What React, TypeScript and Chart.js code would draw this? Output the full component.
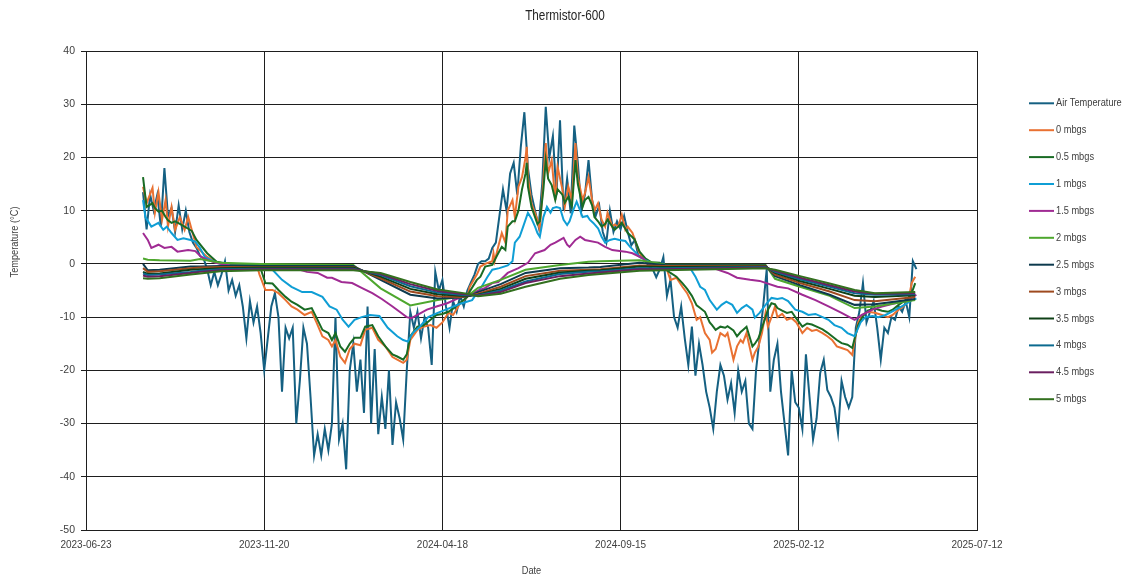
import React, { useEffect, useRef } from "react";
import { Chart, registerables } from "chart.js";

Chart.register(...registerables);

const FONT = "'Liberation Sans', Arial, sans-serif";
const CHART_TITLE = "Thermistor-600";
const X_TITLE = "Date";
const Y_TITLE = "Temperature (°C)";

// Excel serial day numbers for x tick positions (2023-06-23 ... 2025-07-12)
const X_TICKS = [45100, 45250, 45400, 45550, 45700, 45850];
const Y_MIN = -50;
const Y_MAX = 40;
const Y_STEP = 10;

const SERIES_LABELS = [
  "Air Temperature",
  "0 mbgs",
  "0.5 mbgs",
  "1 mbgs",
  "1.5 mbgs",
  "2 mbgs",
  "2.5 mbgs",
  "3 mbgs",
  "3.5 mbgs",
  "4 mbgs",
  "4.5 mbgs",
  "5 mbgs",
];

const SERIES_COLORS = [
  "#156082",
  "#E97132",
  "#196B24",
  "#0F9ED5",
  "#A02B93",
  "#4EA72E",
  "#0D3A4E",
  "#9E4A1F",
  "#0F4016",
  "#0B6A8F",
  "#6A1F60",
  "#33701F",
];

// Air temperature: readings every 3 days from 2023-08-10 (serial 45148)
const AIR_FIRST_DAY = 45148;
const AIR_INTERVAL_DAYS = 3;
const airTemp = [
  13.5, 6.5, 13, 10, 13, 7, 18, 9, 10.5, 6,
  11, 6.5, 10, 6, 4, 3, 1.5, 1, -1, -4,
  -1.5, -4, -2, 0.5, -5, -3, -6, -4, -8, -14,
  -7, -11, -8, -13, -20, -14, -8, -5.5, -10, -24,
  -12, -14, -12, -30, -22, -12, -15, -25, -36, -32,
  -36, -31, -35, -30, -10, -33, -30, -38.6, -20, -15,
  -24, -18, -28, -8, -30, -16, -32, -25, -31, -20,
  -34, -26, -29, -33, -20, -9, -12, -9, -14, -10,
  -12, -19, -1.5, -5, -3, -8, -12, -7, -9, -6,
  -8, -5, -3.5, -2, 0, 0.5, 0.5, 1, 3, 4,
  9, 14, 10, 17, 19, 13, 22, 28.5, 18, 13,
  10, 7, 15, 29.5, 20, 24, 13, 27, 10, 16,
  9.5, 26, 19, 10, 13, 19.5, 12, 9, 11, 6,
  4, 10, 6, 8, 6.5, 9, 6, 3.5, 4.5, 1.5,
  1.5, 0.5, -0.5, -1, -2.5, -1, 1.3, -6, -3, -10,
  -12, -8, -14, -19, -11.8, -21, -15, -19, -24, -27,
  -31, -24, -19, -21, -25.5, -22.4, -28, -20, -24, -22,
  -30, -31, -20, -14, -8, -1, -24, -18, -15, -24,
  -30, -36, -20, -26, -27, -31, -17, -25, -33, -29,
  -20.5, -18, -23.7, -25, -27, -31.8, -22, -25, -27, -25,
  -12, -9, -3.6, -11, -9, -7, -12, -18, -12, -13,
  -10, -10.5, -8, -9, -7, -10, 0.5, -1,
];

// Shallow sensors (0 and 0.5 mbgs) share these reading dates (Excel serials)
const shallowDates = [
  45148, 45151, 45156, 45158, 45161, 45164, 45167, 45169, 45172, 45175,
  45179, 45183, 45186, 45189, 45193, 45202, 45210, 45221, 45244, 45246,
  45251, 45257, 45262, 45268, 45273, 45278, 45284, 45290, 45294, 45299,
  45304, 45307, 45310, 45314, 45318, 45322, 45326, 45331, 45335, 45341,
  45346, 45352, 45358, 45362, 45367, 45370, 45373, 45379, 45384, 45390,
  45395, 45400, 45405, 45409, 45415, 45421, 45423, 45429, 45432, 45436,
  45442, 45443, 45444, 45447, 45450, 45453, 45455, 45459, 45461, 45464,
  45467, 45470, 45471, 45472, 45475, 45480, 45482, 45485, 45487, 45489,
  45492, 45495, 45497, 45501, 45503, 45506, 45509, 45512, 45514, 45518,
  45520, 45523, 45526, 45528, 45531, 45534, 45537, 45539, 45543, 45545,
  45548, 45551, 45554, 45556, 45560, 45562, 45566, 45571, 45576, 45583,
  45589, 45592, 45597, 45602, 45606, 45610, 45614, 45617, 45621, 45625,
  45627, 45630, 45634, 45638, 45640, 45645, 45648, 45651, 45653, 45656,
  45661, 45663, 45666, 45669, 45672, 45674, 45677, 45680, 45682, 45686,
  45690, 45694, 45698, 45703, 45707, 45711, 45715, 45720, 45724, 45728,
  45732, 45736, 45741, 45745, 45747, 45750, 45754, 45758, 45764, 45770,
  45775, 45779, 45784, 45788, 45792, 45795, 45798,
];

const soil0 = [
  14.5, 11.4, 14.3, 9.6, 13.5, 8.3, 12, 7, 10.7, 6.4,
  8.8, 6.4, 8.8, 6.4, 3.2, 1.3, 0.2, -0.2, -0.4, -2,
  -4.9, -4.9, -5.5, -6.8, -8, -8.6, -9.6, -9, -11, -13.6,
  -14.3, -15.5, -14.3, -17.4, -18.6, -16, -15, -15.3, -12.4, -12,
  -14.3, -15.5, -17.5, -18, -18.6, -18, -14.3, -12.4, -11.8, -11.5,
  -12, -11, -9.2, -9.6, -7.4, -6.2, -4.3, -2, -0.5, 0,
  0.5, 2, 0.5, 3.2, 5.8, 4, 10, 12, 8.8, 14.5,
  16.3, 20, 22, 16.3, 11.4, 8.3, 6.4, 15.8, 22.7, 17,
  19.5, 12, 18.2, 14, 10.7, 14.5, 12, 22.7, 16.3, 12,
  13.3, 16.3, 12, 10, 11.4, 8.3, 7, 9.6, 7, 7.4,
  7, 9.2, 6.4, 7, 5.8, 4.5, 2, 0.7, 0.2, 0,
  -1.1, -3, -2.6, -4.3, -5.5, -7.4, -10.5, -10, -13, -14.3,
  -16.7, -16, -13, -13.6, -13, -18, -15.5, -14.3, -14.8, -13,
  -18, -16.7, -15.5, -13, -9.2, -11.8, -10, -8, -10, -9.4,
  -10.5, -10.2, -11, -13, -12, -12.6, -12.4, -13, -13.6, -14.3,
  -15.5, -15.8, -16.2, -17.1, -14.5, -11, -9.6, -9, -9.2, -9.6,
  -10, -9.6, -8.6, -8, -7.1, -3.6, -2.4,
];

const soil05 = [
  16.3, 10.7, 11.4, 10.5, 9.8, 10, 8.8, 8.2, 7.7, 8,
  7.5, 7, 6.6, 6.2, 4.5, 2, 0.4, 0, -0.2, -0.2,
  -3.6, -3.7, -4.9, -6.2, -7.1, -7.7, -8.6, -8.3, -10.1, -12.4,
  -13, -14.3, -13, -15.5, -16.5, -15, -13.9, -13.9, -11.8, -11.5,
  -13.6, -15.5, -17, -17.4, -18, -17, -13.6, -11.8, -11.6, -10.5,
  -9.6, -9.4, -9, -8.4, -7.3, -6.2, -5.2, -3, -2.4, -0.5,
  -0.2, 0.2, 0.7, 2, 3.2, 2.6, 7, 8, 8, 10,
  14, 17, 19, 14.5, 10.7, 7.5, 8, 14, 19.5, 16,
  14.8, 12, 14, 13, 11.5, 12.6, 10.7, 19.5, 15, 10.7,
  12, 12.6, 11, 8.8, 8, 7, 7.5, 8.3, 7, 6.4,
  7, 7.7, 6.6, 5.8, 5, 4.5, 2.3, 1, 0.3, 0.2,
  -1.2, -1.7, -2.4, -3.6, -4.7, -6, -7.8, -8.3, -9, -11,
  -11.5, -12.4, -11.8, -12, -11.7, -12.5, -13.6, -12.8, -12.4, -11.8,
  -15.5, -15, -14, -12, -10, -8.6, -7.4, -7.6, -8.3, -8.8,
  -9.2, -9, -10.3, -11.8, -11.2, -11.4, -11.8, -12.3, -12.9, -13.6,
  -14.3, -14.9, -15.2, -15.8, -14, -11.5, -9.8, -8.8, -8.4, -8.8,
  -9, -8.6, -7.7, -7.1, -6.5, -5.5, -3.6,
];

// 1 mbgs readings: [Excel serial date, temperature]
const soil1: [number, number][] = [
  [45148, 12], [45150, 8.8], [45155, 7], [45161, 7.7], [45165, 6.4], [45168, 7], [45172, 5.8], [45177, 4.5], [45182, 4.8], [45188, 4.5],
  [45192, 4.2], [45196, 3], [45200, 1.3], [45206, 0.6], [45213, 0], [45221, -0.3], [45253, -0.4], [45257, -1.1], [45265, -3], [45273, -4.3],
  [45282, -5.3], [45290, -5.3], [45299, -6.2], [45305, -8], [45311, -8.6], [45316, -10.5], [45321, -11.8], [45326, -10.5], [45332, -10], [45339, -9.6],
  [45347, -9.8], [45354, -12], [45362, -13.6], [45367, -14.3], [45371, -14.6], [45375, -13], [45381, -11.8], [45388, -10], [45396, -9.2], [45405, -8.4],
  [45415, -7.5], [45425, -6.8], [45429, -5.5], [45433, -4.3], [45438, -2.4], [45442, -1.1], [45448, -0.8], [45455, -0.3], [45459, 0.5], [45461, 4],
  [45465, 5.1], [45468, 7], [45472, 9.6], [45475, 8.5], [45478, 7], [45480, 5.8], [45482, 5.1], [45485, 8.8], [45488, 10.7], [45491, 9.6],
  [45493, 10.5], [45496, 10.7], [45499, 10.5], [45502, 8.3], [45505, 7.3], [45507, 8], [45510, 10], [45513, 11.7], [45516, 10], [45518, 8.8],
  [45522, 9], [45524, 8.3], [45527, 7.7], [45531, 6.7], [45534, 5.1], [45537, 4], [45541, 4.5], [45545, 4.7], [45549, 4.5], [45554, 4.3],
  [45558, 3.2], [45562, 2.3], [45566, 1.3], [45571, 0.7], [45576, 0.2], [45587, -0.2], [45604, -0.4], [45608, -0.6], [45613, -2.4], [45617, -4.3],
  [45621, -4.9], [45625, -6.8], [45631, -8.6], [45635, -7.7], [45639, -7.1], [45644, -7.7], [45648, -9.2], [45652, -8.3], [45656, -7.7], [45661, -8.6],
  [45663, -10.1], [45667, -9.2], [45673, -7.4], [45677, -6.4], [45682, -6.6], [45686, -6.4], [45691, -7], [45697, -8.6], [45703, -9], [45708, -9.6],
  [45714, -9.4], [45720, -10], [45725, -10.5], [45730, -11.5], [45736, -12], [45741, -13], [45747, -13.6], [45752, -11], [45756, -10], [45762, -9.8],
  [45767, -10], [45773, -9.6], [45778, -9], [45784, -8.3], [45789, -7.7], [45795, -6.8], [45799, -6.5],
];

// 1.5 mbgs readings: [Excel serial date, temperature]
const soil15: [number, number][] = [
  [45148, 5.8], [45152, 4.5], [45155, 3.0], [45161, 3.6], [45166, 3.0], [45172, 3.2], [45177, 2.3], [45186, 2.6], [45192, 2.4], [45197, 1.3],
  [45203, 0.7], [45209, 0.2], [45221, -0.3], [45272, -0.6], [45286, -1.5], [45295, -1.7], [45303, -2.6], [45307, -2.6], [45315, -3.4], [45324, -3.6],
  [45332, -4.5], [45341, -5.5], [45349, -6.6], [45358, -8], [45364, -9], [45370, -10], [45374, -10.2], [45379, -9.6], [45387, -8.6], [45395, -8],
  [45404, -7.4], [45416, -6.2], [45427, -5.3], [45436, -4.5], [45442, -3.6], [45447, -3.4], [45455, -1.7], [45464, -0.8], [45472, 0.2], [45478, 2.0],
  [45486, 2.6], [45491, 3.6], [45495, 4.0], [45502, 4.9], [45505, 3.6], [45507, 3.2], [45512, 4.5], [45516, 5.1], [45520, 4.5], [45531, 4.0],
  [45537, 3.2], [45543, 2.6], [45554, 2.3], [45560, 2.0], [45569, 1.0], [45575, -0.2], [45583, -0.5], [45617, -0.6], [45628, -0.8], [45640, -1.7],
  [45648, -2.6], [45659, -3.0], [45667, -3.2], [45682, -4.3], [45691, -4.6], [45703, -5.8], [45714, -6.8], [45725, -8.0], [45736, -9.2], [45747, -10.5],
  [45753, -9.6], [45762, -8.6], [45770, -8.0], [45781, -7.4], [45792, -6.8], [45799, -5.8],
];

// Deep sensors (2 to 5 mbgs) share these reading dates (Excel serials)
const deepDates = [
  45148, 45152, 45162, 45188, 45196, 45213, 45247, 45325, 45348, 45373,
  45396, 45415, 45423, 45430, 45449, 45470, 45499, 45523, 45533, 45566,
  45587, 45672, 45680, 45701, 45726, 45747, 45764, 45798,
];
const soil2 = [1.0, 0.8, 0.7, 0.6, 0.9, 0.2, 0.0, -0.2, -4.6, -7.8, -6.8, -6.2, -5.7, -4.5, -3.0, -1.1, -0.2, 0.4, 0.5, 0.7, -0.1, -0.2, -2.8, -4.3, -6.0, -8.3, -8.0, -6.8];
const soil25 = [0.0, -1.2, -1.1, -0.5, -0.5, -0.4, -0.4, -0.4, -3.0, -5.8, -6.5, -6.3, -6.0, -5.3, -3.8, -1.7, -0.8, -0.7, -0.6, 0.2, -0.2, -0.3, -2.3, -4.0, -5.8, -7.7, -7.6, -6.6];
const soil3 = [-0.8, -1.5, -1.4, -0.8, -0.7, -0.6, -0.6, -0.6, -2.7, -5.2, -6.1, -6.2, -6.0, -5.6, -4.3, -2.3, -1.3, -1.1, -1.0, -0.3, -0.4, -0.4, -2.0, -3.6, -5.2, -6.8, -7.0, -6.2];
const soil35 = [-1.5, -1.9, -1.8, -1.1, -1.0, -0.8, -0.7, -0.7, -2.4, -4.7, -5.7, -6.0, -6.0, -5.8, -4.7, -2.8, -1.6, -1.3, -1.2, -0.5, -0.6, -0.5, -1.7, -3.2, -4.7, -6.0, -6.2, -5.9];
const soil4 = [-1.8, -2.1, -2.0, -1.5, -1.3, -1.0, -0.9, -0.9, -2.1, -4.2, -5.4, -5.8, -5.9, -5.9, -5.0, -3.3, -1.9, -1.5, -1.4, -0.8, -0.8, -0.6, -1.5, -2.9, -4.3, -5.5, -5.8, -5.7];
const soil45 = [-2.2, -2.4, -2.3, -1.7, -1.5, -1.2, -1.0, -1.0, -1.9, -3.8, -5.1, -5.6, -5.8, -6.0, -5.3, -3.6, -2.3, -1.8, -1.6, -1.0, -1.0, -0.7, -1.3, -2.6, -4.0, -5.2, -5.6, -5.5];
const soil5 = [-2.7, -2.8, -2.7, -2.0, -1.8, -1.4, -1.2, -1.2, -1.7, -3.4, -4.8, -5.4, -5.7, -6.1, -5.6, -4.3, -2.8, -2.1, -1.9, -1.3, -1.2, -0.8, -1.1, -2.3, -3.7, -4.9, -5.5, -5.3];

const TEXT_COLOR = "#404040";
const GRID_COLOR = "#1e1e1e";
// horizontal condensing to imitate the narrow original typeface
const CONDENSE = 0.84;

function serialToIso(serial: number): string {
  const d = new Date(Date.UTC(1899, 11, 30) + Math.round(serial) * 86400000);
  return d.toISOString().slice(0, 10);
}

function zipXY(xs: number[], ys: number[]) {
  const n = Math.min(xs.length, ys.length);
  const out: { x: number; y: number }[] = [];
  for (let i = 0; i < n; i++) out.push({ x: xs[i], y: ys[i] });
  return out;
}

function buildSeriesData() {
  const airDates = airTemp.map((_, i) => AIR_FIRST_DAY + i * AIR_INTERVAL_DAYS);
  return [
    zipXY(airDates, airTemp),
    zipXY(shallowDates, soil0),
    zipXY(shallowDates, soil05),
    soil1.map(([x, y]) => ({ x, y })),
    soil15.map(([x, y]) => ({ x, y })),
    zipXY(deepDates, soil2),
    zipXY(deepDates, soil25),
    zipXY(deepDates, soil3),
    zipXY(deepDates, soil35),
    zipXY(deepDates, soil4),
    zipXY(deepDates, soil45),
    zipXY(deepDates, soil5),
  ];
}

function condensedText(
  ctx: CanvasRenderingContext2D,
  text: string,
  x: number,
  y: number,
  rotate: number
) {
  ctx.save();
  ctx.translate(x, y);
  if (rotate) ctx.rotate(rotate);
  ctx.scale(CONDENSE, 1);
  ctx.fillText(text, 0, 0);
  ctx.restore();
}

const textAndLegendPlugin = {
  id: "textAndLegend",
  afterDraw(chart: any) {
    const ctx: CanvasRenderingContext2D = chart.ctx;
    const area = chart.chartArea;
    ctx.save();
    ctx.textAlign = "center";
    ctx.textBaseline = "middle";
    ctx.fillStyle = "#262626";
    ctx.font = `14px ${FONT}`;
    condensedText(ctx, CHART_TITLE, 565, 16, 0);

    ctx.fillStyle = TEXT_COLOR;
    ctx.font = `11px ${FONT}`;
    condensedText(ctx, X_TITLE, (area.left + area.right) / 2, 571, 0);
    condensedText(ctx, Y_TITLE, 15, 242, -Math.PI / 2);

    // legend
    ctx.textAlign = "left";
    const datasets = chart.data.datasets;
    for (let i = 0; i < datasets.length; i++) {
      const y = 103.3 + i * 26.9;
      ctx.strokeStyle = datasets[i].borderColor;
      ctx.lineWidth = 2;
      ctx.beginPath();
      ctx.moveTo(1029, y);
      ctx.lineTo(1054, y);
      ctx.stroke();
      ctx.fillStyle = TEXT_COLOR;
      condensedText(ctx, datasets[i].label, 1056, y, 0);
    }
    ctx.restore();
  },
};

export default function App() {
  const canvasRef = useRef<HTMLCanvasElement | null>(null);

  useEffect(() => {
    document.body.style.margin = "0";
    const canvas = canvasRef.current;
    if (!canvas) return;
    const seriesData = buildSeriesData();
    const n = SERIES_LABELS.length;
    const datasets = SERIES_LABELS.map((label, i) => ({
      label,
      data: seriesData[i],
      borderColor: SERIES_COLORS[i],
      backgroundColor: SERIES_COLORS[i],
      borderWidth: 2,
      pointRadius: 0,
      pointHoverRadius: 0,
      tension: 0,
      fill: false,
      order: n - i,
    }));

    const chart = new Chart(canvas, {
      type: "line",
      data: { datasets },
      options: {
        responsive: false,
        devicePixelRatio: 1,
        animation: false,
        events: [],
        layout: { padding: { left: 0, right: 153, top: 51, bottom: 0 } },
        plugins: {
          legend: { display: false },
          title: { display: false },
          tooltip: { enabled: false },
        },
        scales: {
          x: {
            type: "linear",
            min: X_TICKS[0],
            max: X_TICKS[X_TICKS.length - 1],
            afterBuildTicks: (scale: any) => {
              scale.ticks = X_TICKS.map((v) => ({ value: v }));
            },
            afterFit: (scale: any) => {
              scale.height = 48;
            },
            ticks: {
              autoSkip: false,
              maxRotation: 0,
              padding: 9,
              color: TEXT_COLOR,
              font: { family: FONT, size: 10 },
              callback: (v: any) => serialToIso(Number(v)),
            },
            grid: { color: GRID_COLOR, lineWidth: 1, drawTicks: false },
            border: { color: GRID_COLOR, width: 1 },
          },
          y: {
            type: "linear",
            min: Y_MIN,
            max: Y_MAX,
            afterFit: (scale: any) => {
              scale.width = 86;
            },
            ticks: {
              stepSize: Y_STEP,
              padding: 6,
              color: TEXT_COLOR,
              font: { family: FONT, size: 10.5 },
            },
            grid: { color: GRID_COLOR, lineWidth: 1, tickLength: 5 },
            border: { color: GRID_COLOR, width: 1 },
          },
        },
      },
      plugins: [textAndLegendPlugin],
    } as any);

    return () => chart.destroy();
  }, []);

  return (
    <div style={{ width: 1130, height: 578, position: "relative", background: "#ffffff" }}>
      <canvas ref={canvasRef} width={1130} height={578} style={{ display: "block" }} />
    </div>
  );
}
